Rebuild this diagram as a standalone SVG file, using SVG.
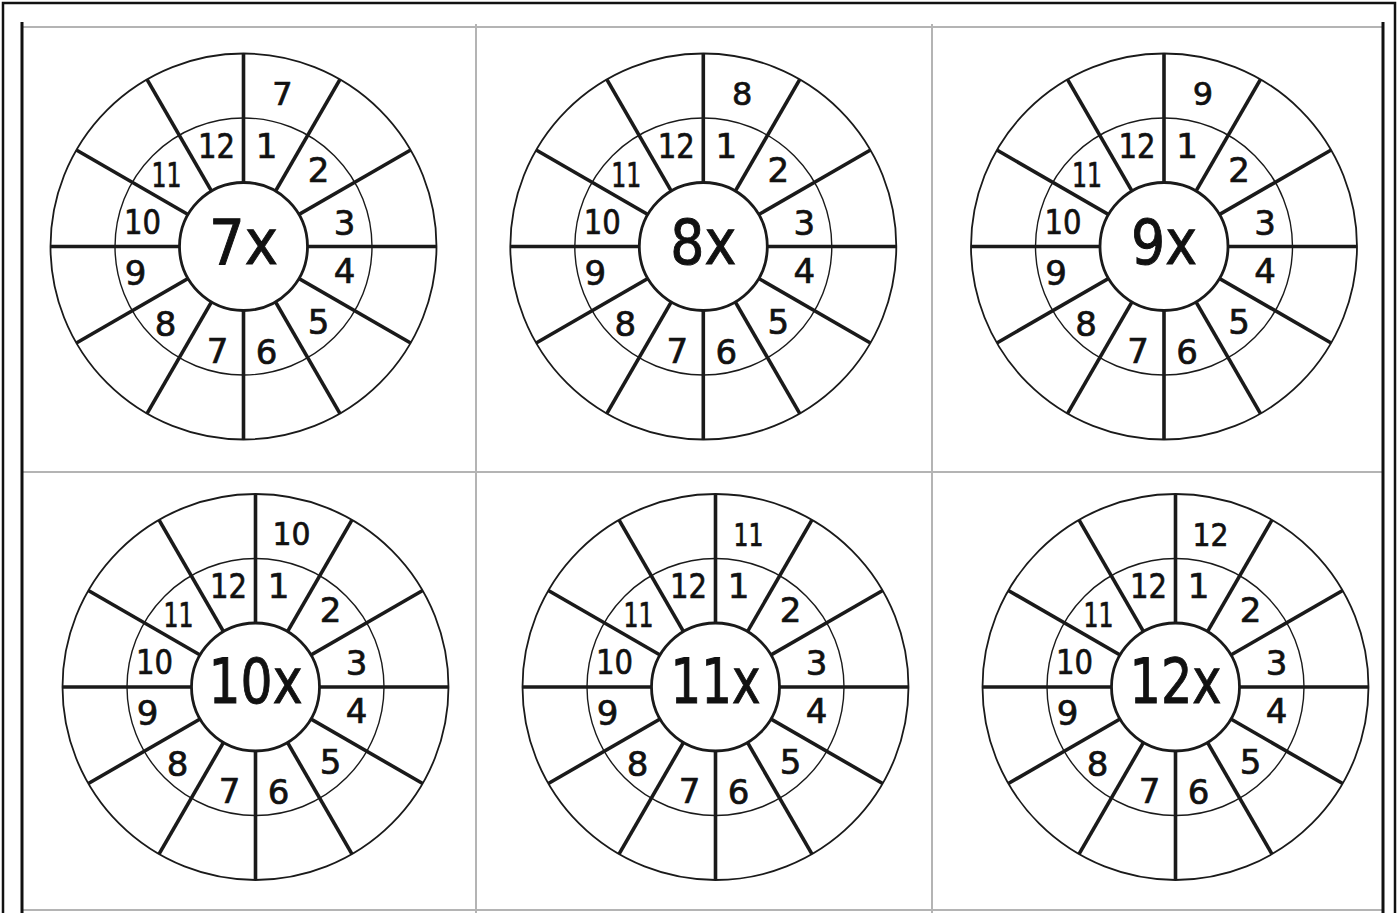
<svg xmlns="http://www.w3.org/2000/svg" xmlns:xlink="http://www.w3.org/1999/xlink" width="1398" height="913" viewBox="0 0 1398 913">
<style>
.grid{stroke:#b4b4b4;stroke-width:2;fill:none}
.edge{stroke:#111;stroke-width:3;fill:none}
.spoke{stroke:#1a1a1a;stroke-width:3.6;fill:none}
.ring-out{stroke:#1a1a1a;stroke-width:1.8;fill:none}
.ring-mid{stroke:#1a1a1a;stroke-width:1.4;fill:none}
.ring-in{stroke:#1a1a1a;stroke-width:2.8;fill:#fff}
text{font-family:"DejaVu Sans","Liberation Sans",sans-serif;fill:#111;stroke:#111;text-anchor:middle}
.n{font-size:34px;stroke-width:0.7px}
.o{font-size:32px;stroke-width:0.7px}
.c{font-size:62px;stroke-width:1px}
</style>
<defs>
<g id="wheelBase">
<circle class="ring-out" r="193"/>
<circle class="ring-mid" r="128.5"/>
<line class="spoke" x1="0" y1="-193" x2="0" y2="193"/>
<line class="spoke" x1="96.5" y1="-167.14" x2="-96.5" y2="167.14"/>
<line class="spoke" x1="167.14" y1="-96.5" x2="-167.14" y2="96.5"/>
<line class="spoke" x1="-193" y1="0" x2="193" y2="0"/>
<line class="spoke" x1="167.14" y1="96.5" x2="-167.14" y2="-96.5"/>
<line class="spoke" x1="96.5" y1="167.14" x2="-96.5" y2="-167.14"/>
<circle class="ring-in" r="64"/>
<text class="n" x="23" y="-89">1</text>
<text class="n" x="75" y="-65">2</text>
<text class="n" x="101" y="-12">3</text>
<text class="n" x="101" y="36">4</text>
<text class="n" x="75" y="87">5</text>
<text class="n" x="23" y="117">6</text>
<text class="n" x="-26" y="116">7</text>
<text class="n" x="-78" y="89">8</text>
<text class="n" x="-108" y="38">9</text>
<text class="n" x="-101" y="-13" textLength="37" lengthAdjust="spacingAndGlyphs">10</text>
<text class="n" x="-77" y="-60" textLength="30" lengthAdjust="spacingAndGlyphs">11</text>
<text class="n" x="-27" y="-89" textLength="37" lengthAdjust="spacingAndGlyphs">12</text>
</g>
</defs>
<rect id="page-border" x="3" y="3" width="1392" height="930" fill="none" stroke="#111" stroke-width="2.5"/>
<g id="table">
<line class="grid" x1="22" y1="27" x2="1383" y2="27"/>
<line class="grid" x1="22" y1="472" x2="1383" y2="472"/>
<line class="grid" x1="22" y1="910" x2="1383" y2="910"/>
<line class="grid" x1="476" y1="24" x2="476" y2="913"/>
<line class="grid" x1="932" y1="24" x2="932" y2="913"/>
<line class="edge" x1="22" y1="22" x2="22" y2="913"/>
<line class="edge" x1="1383" y1="22" x2="1383" y2="913"/>
</g>
<g id="wheel-7" transform="translate(243.5,246.5)">
<use xlink:href="#wheelBase" href="#wheelBase"/>
<text class="o" x="39" y="-142">7</text>
<text class="c" x="0" y="17" textLength="69" lengthAdjust="spacingAndGlyphs">7x</text>
</g>
<g id="wheel-8" transform="translate(703.3,246.5)">
<use xlink:href="#wheelBase" href="#wheelBase"/>
<text class="o" x="39" y="-142">8</text>
<text class="c" x="0" y="17" textLength="66" lengthAdjust="spacingAndGlyphs">8x</text>
</g>
<g id="wheel-9" transform="translate(1164,246.5)">
<use xlink:href="#wheelBase" href="#wheelBase"/>
<text class="o" x="39" y="-142">9</text>
<text class="c" x="0" y="17" textLength="66" lengthAdjust="spacingAndGlyphs">9x</text>
</g>
<g id="wheel-10" transform="translate(255.5,687)">
<use xlink:href="#wheelBase" href="#wheelBase"/>
<text class="o" x="36" y="-142" textLength="38" lengthAdjust="spacingAndGlyphs">10</text>
<text class="c" x="0" y="16" textLength="94" lengthAdjust="spacingAndGlyphs">10x</text>
</g>
<g id="wheel-11" transform="translate(715.5,687)">
<use xlink:href="#wheelBase" href="#wheelBase"/>
<text class="o" x="33" y="-141" textLength="30" lengthAdjust="spacingAndGlyphs">11</text>
<text class="c" x="0" y="16" textLength="90" lengthAdjust="spacingAndGlyphs">11x</text>
</g>
<g id="wheel-12" transform="translate(1175.5,687)">
<use xlink:href="#wheelBase" href="#wheelBase"/>
<text class="o" x="35" y="-141" textLength="36" lengthAdjust="spacingAndGlyphs">12</text>
<text class="c" x="0" y="16" textLength="92" lengthAdjust="spacingAndGlyphs">12x</text>
</g>
</svg>
